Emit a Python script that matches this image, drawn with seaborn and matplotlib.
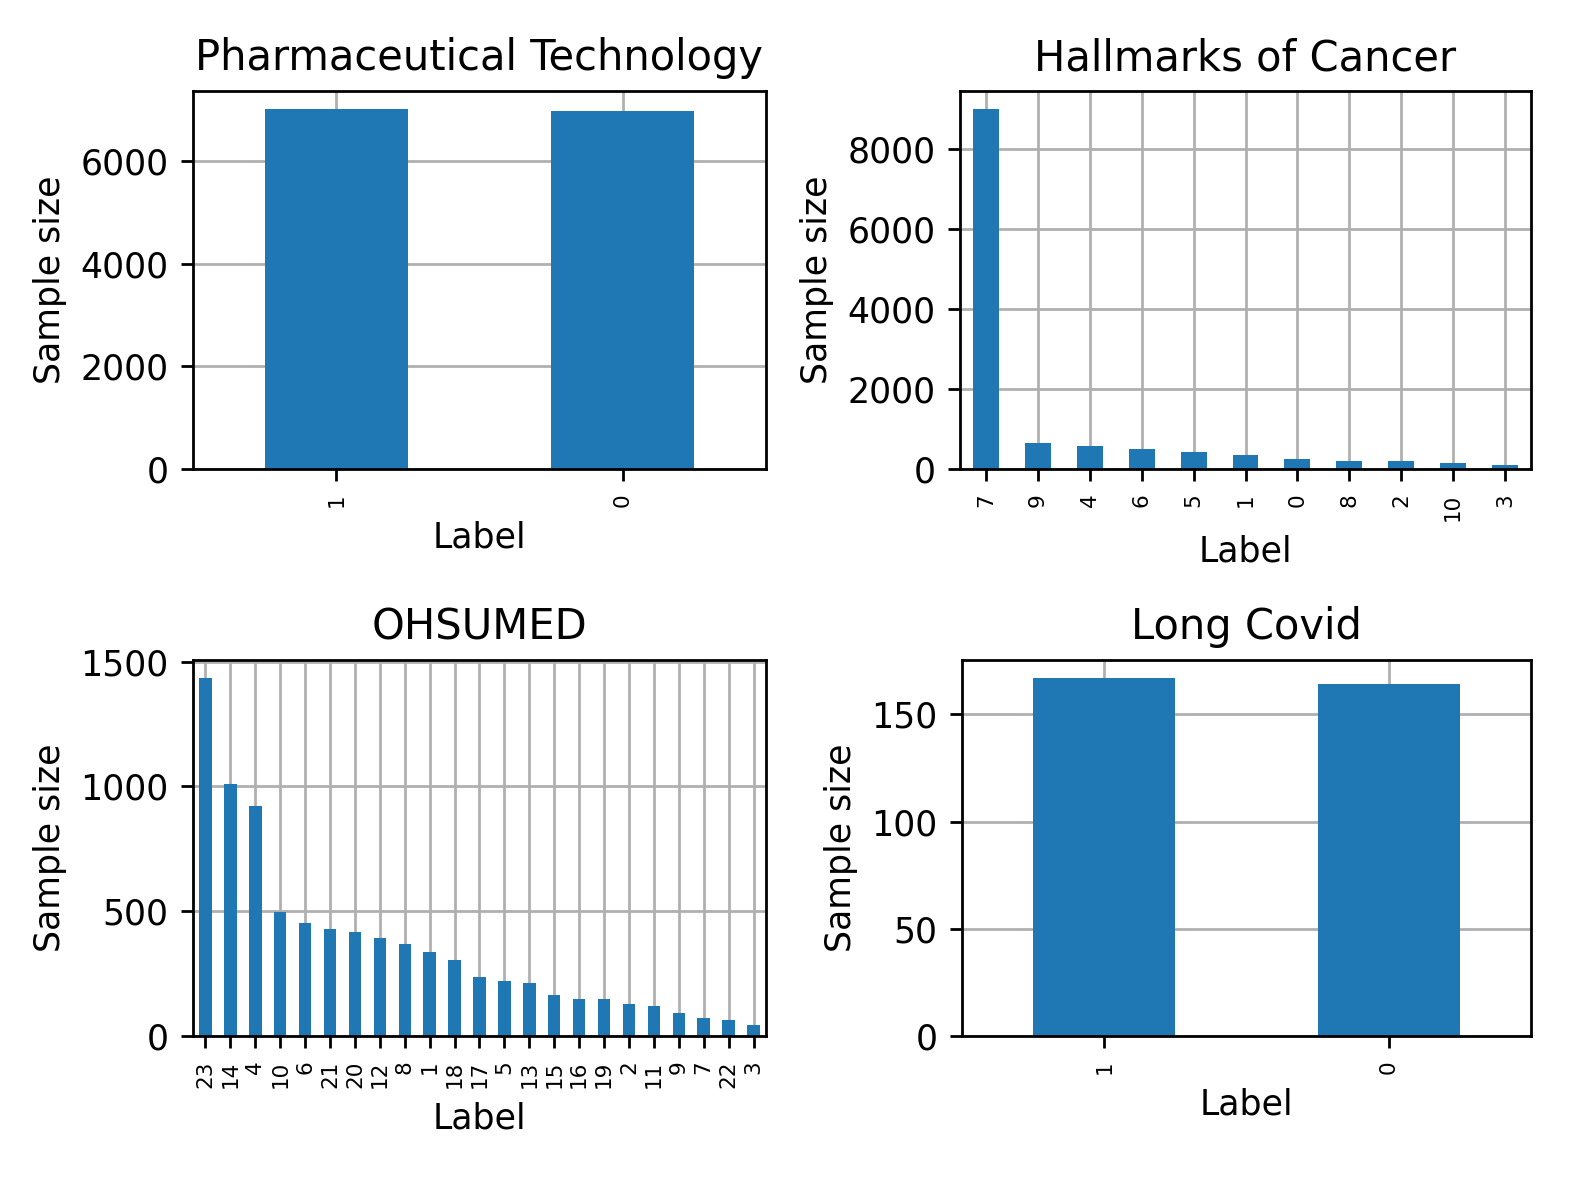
import matplotlib
matplotlib.use("Agg")
import matplotlib.pyplot as plt
import seaborn as sns
import pandas as pd

# ---- data ----
pharma_labels = ["1", "0"]
pharma_values = [7020, 6980]

hallmarks_labels = ["7", "9", "4", "6", "5", "1", "0", "8", "2", "10", "3"]
hallmarks_values = [9013, 644, 577, 494, 418, 343, 243, 209, 192, 151, 109]

ohsumed_labels = ["23", "14", "4", "10", "6", "21", "20", "12", "8", "1", "18", "17",
                  "5", "13", "15", "16", "19", "2", "11", "9", "7", "22", "3"]
ohsumed_values = [1435, 1008, 921, 497, 454, 429, 418, 393, 370, 338, 306, 237,
                  221, 212, 166, 150, 149, 130, 121, 93, 71, 64, 44]

covid_labels = ["1", "0"]
covid_values = [167, 164]

titles = ["Pharmaceutical Technology", "Hallmarks of Cancer", "OHSUMED", "Long Covid"]

W, H = 1577, 1183
DPI = 250
fig = plt.figure(figsize=(W / DPI, H / DPI), dpi=DPI)

# axes boxes in pixel coords (left, right, top, bottom)
boxes = [
    (193, 766, 91, 469),
    (960, 1531, 91, 469),
    (193, 766, 660, 1036),
    (962, 1531, 660, 1036),
]

datasets = [
    (pharma_labels, pharma_values),
    (hallmarks_labels, hallmarks_values),
    (ohsumed_labels, ohsumed_values),
    (covid_labels, covid_values),
]

for (l, r, t, b), (labels, values), title in zip(boxes, datasets, titles):
    ax = fig.add_axes([l / W, (H - b) / H, (r - l) / W, (b - t) / H])
    df = pd.DataFrame({"Label": labels, "Sample size": values})
    sns.barplot(data=df, x="Label", y="Sample size", order=labels, color="#1f77b4",
                saturation=1, width=0.5, linewidth=0, ax=ax)
    ax.set_axisbelow(True)
    ax.grid(True, color="#b0b0b0", linewidth=0.8)
    ax.set_xlim(-0.5, len(labels) - 0.5)
    ax.set_ylim(0, max(values) * 1.05)
    ax.tick_params(axis="x", labelrotation=90, labelsize=6.2)
    ax.tick_params(axis="y", labelsize=10)
    ax.set_xlabel("Label", fontsize=10)
    ax.set_ylabel("Sample size", fontsize=10)
    ax.set_title(title, fontsize=12)
    for s in ax.spines.values():
        s.set_linewidth(0.8)

fig.savefig("out.png", dpi=DPI)
